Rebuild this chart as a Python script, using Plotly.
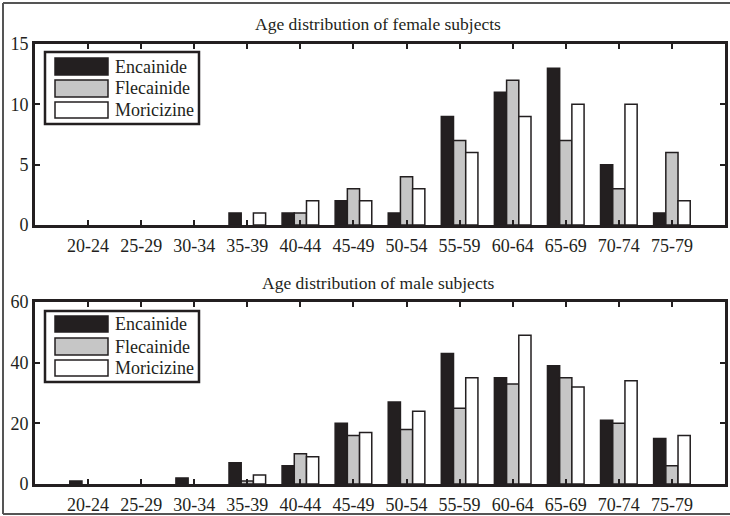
import plotly.graph_objects as go

W, H = 730, 516

age_groups = ["20-24", "25-29", "30-34", "35-39", "40-44", "45-49",
              "50-54", "55-59", "60-64", "65-69", "70-74", "75-79"]
drugs = ["Encainide", "Flecainide", "Moricizine"]

female_encainide = [0, 0, 0, 1, 1, 2, 1, 9, 11, 13, 5, 1]
female_flecainide = [0, 0, 0, 0, 1, 3, 4, 7, 12, 7, 3, 6]
female_moricizine = [0, 0, 0, 1, 2, 2, 3, 6, 9, 10, 10, 2]

male_encainide = [1, 0, 2, 7, 6, 20, 27, 43, 35, 39, 21, 15]
male_flecainide = [0, 0, 0, 1, 10, 16, 18, 25, 33, 35, 20, 6]
male_moricizine = [0, 0, 0, 3, 9, 17, 24, 35, 49, 32, 34, 16]

fills = {"Encainide": "#231f20", "Flecainide": "#c6c6c6", "Moricizine": "#ffffff"}
edge = "#231f20"
FONT = "'Liberation Serif', 'Times New Roman', serif"


def px(x):
    return x / W


def py(y):
    return 1 - y / H


fig = go.Figure()

panels = [
    ("x", "y", [female_encainide, female_flecainide, female_moricizine]),
    ("x2", "y2", [male_encainide, male_flecainide, male_moricizine]),
]
for xa, ya, series in panels:
    for name, vals in zip(drugs, series):
        # empty bins get no outline at all
        shown = [v if v else None for v in vals]
        fig.add_trace(go.Bar(
            x=age_groups, y=shown, name=name, xaxis=xa, yaxis=ya,
            marker=dict(color=fills[name], line=dict(color=edge, width=1.5)),
            showlegend=False, hoverinfo="x+y+name",
        ))

axis_common = dict(
    showline=True, linewidth=3, linecolor=edge, mirror="ticks",
    ticks="inside", ticklen=5, tickwidth=2, tickcolor=edge,
    showgrid=False, zeroline=False, automargin=False,
    tickfont=dict(family=FONT, size=18, color="#231f20"),
)

x_dom = [px(35), px(725)]
fig.update_layout(
    width=W, height=H,
    margin=dict(l=0, r=0, t=0, b=0),
    paper_bgcolor="white", plot_bgcolor="white",
    barmode="group", bargap=0.31, bargroupgap=0,
    xaxis=dict(domain=x_dom, anchor="y", type="category",
               categoryorder="array", categoryarray=age_groups,
               range=[-1, 12], ticklabelstandoff=2, **axis_common),
    yaxis=dict(domain=[py(225), py(44)], anchor="x", range=[0, 15],
               tickvals=[0, 5, 10, 15], **axis_common),
    xaxis2=dict(domain=x_dom, anchor="y2", type="category",
                categoryorder="array", categoryarray=age_groups,
                range=[-1, 12], ticklabelstandoff=2, **axis_common),
    yaxis2=dict(domain=[py(484), py(302)], anchor="x2", range=[0, 60],
                tickvals=[0, 20, 40, 60], **axis_common),
)

shapes = []
annotations = []

# Thin frame around the figure
frame = dict(type="line", xref="paper", yref="paper",
             line=dict(color="#555555", width=2))
shapes.append(dict(frame, x0=px(3), x1=1, y0=py(3), y1=py(3)))
shapes.append(dict(frame, x0=px(3), x1=1, y0=py(514), y1=py(514)))
shapes.append(dict(frame, x0=px(3), x1=px(3), y0=py(3), y1=py(514)))

# Panel titles
titles = [("Age distribution of female subjects", 24),
          ("Age distribution of male subjects", 283)]
for text, yc in titles:
    annotations.append(dict(
        text=text, xref="paper", yref="paper", x=px(378), y=py(yc),
        xanchor="center", yanchor="middle", showarrow=False,
        font=dict(family=FONT, size=17.5, color="#231f20"),
    ))

# Legend boxes drawn inside each panel
legend_layout = [
    (52, 124, [(58, 75), (80, 97), (102, 118)]),
    (311, 382, [(316, 332), (338, 355), (360, 376)]),
]
for top, bottom, rows in legend_layout:
    shapes.append(dict(type="rect", xref="paper", yref="paper",
                       x0=px(45), x1=px(199), y0=py(bottom), y1=py(top),
                       line=dict(color=edge, width=2.5), fillcolor="white",
                       layer="above"))
    for name, (r0, r1) in zip(drugs, rows):
        shapes.append(dict(type="rect", xref="paper", yref="paper",
                           x0=px(55), x1=px(108), y0=py(r1), y1=py(r0),
                           line=dict(color=edge, width=1.5),
                           fillcolor=fills[name], layer="above"))
        annotations.append(dict(
            text=name, xref="paper", yref="paper", x=px(113),
            y=py((r0 + r1) / 2), xanchor="left", yanchor="middle",
            showarrow=False, font=dict(family=FONT, size=18, color="#231f20"),
        ))

fig.update_layout(shapes=shapes, annotations=annotations)

fig.write_html("out.html")
